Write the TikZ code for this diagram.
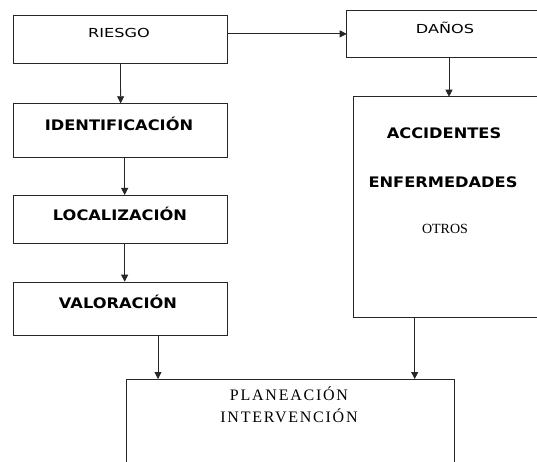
\documentclass[tikz,border=0pt]{standalone}
\usepackage{fontspec}
\setmainfont{Liberation Serif}
\newfontfamily\comic[FakeStretch=1.3]{DejaVu Sans}
\newfontfamily\comicbold[FakeStretch=1.12]{DejaVu Sans}
\newfontfamily\serifsp[LetterSpace=11]{Liberation Serif}
\usetikzlibrary{arrows.meta}
\tikzset{
  box/.style={draw=black!85, line width=1pt, inner sep=0pt, anchor=north west, fill=white},
  openbox/.style={draw=none, inner sep=0pt, anchor=north west},
  edge/.style={draw=black!85, line width=1pt},
  arr/.style={-{Triangle[width=7pt,length=7pt]}, draw=black!85, line width=0.8pt},
  lblreg/.style={anchor=base, inner sep=0pt, font=\comic\fontsize{12.4}{14}\selectfont},
  lblbold/.style={anchor=base, inner sep=0pt, font=\comicbold\bfseries\fontsize{14.5}{16}\selectfont},
  lblserif/.style={anchor=base, inner sep=0pt, font=\serifsp\fontsize{16}{18}\selectfont},
  lblotros/.style={anchor=base, inner sep=0pt, font=\rmfamily\fontsize{14}{16}\selectfont}
}
\begin{document}
\begin{tikzpicture}[x=1pt, y=-1pt]
\useasboundingbox (0,0) rectangle (537,462);
\clip (0,0) rectangle (537,462);
\fill[white] (0,0) rectangle (537,462);
% boxes
\node[box, minimum width=213.4pt, minimum height=48.3pt] (riesgo) at (13.3,14.7) {};
\node[openbox, minimum width=200pt, minimum height=46pt] (danos) at (346.7,10.7) {};
\node[box, minimum width=213.7pt, minimum height=53.7pt] (ident) at (13.3,103.3) {};
\node[box, minimum width=213.7pt, minimum height=47.7pt] (loc) at (13.3,195) {};
\node[box, minimum width=213.7pt, minimum height=53.3pt] (val) at (13.3,281.7) {};
\node[openbox, minimum width=200pt, minimum height=220pt] (acc) at (353.3,96.7) {};
\node[box, minimum width=328pt, minimum height=120pt] (plan) at (126,379) {};
% right boxes run past the right edge of the picture
\coordinate (edgeR) at (545,0);
\draw[edge] (danos.north -| edgeR) -- (danos.north west) -- (danos.south west) -- (danos.south -| edgeR);
\draw[edge] (acc.north -| edgeR) -- (acc.north west) -- (acc.south west) -- (acc.south -| edgeR);
% texts
\node[lblreg] (triesgo) at (119,37.3) {RIESGO};
\node[lblreg] (tdanos) at (445,33.5) {DAÑOS};
\node[lblbold] (tident) at (119,130.7) {IDENTIFICACIÓN};
\node[lblbold] (tloc) at (120,220) {LOCALIZACIÓN};
\node[lblbold] (tval) at (118,308) {VALORACIÓN};
\node[lblbold] (tacc) at (444,138.3) {ACCIDENTES};
\node[lblbold] (tenf) at (443,187.3) {ENFERMEDADES};
\node[lblotros] (totros) at (445,233.3) {OTROS};
\node[lblserif] (tplan) at (289,400) {PLANEACIÓN};
\node[lblserif] (tinter) at (289,422.7) {INTERVENCIÓN};
% connector columns
\coordinate (cd) at (449,0);
\coordinate (cv) at (158,0);
\coordinate (ca) at (414.7,0);
% connectors
\draw[arr] (danos.west -| riesgo.east) -- (danos.west);
\draw[arr] (riesgo.south) -- (ident.north);
\draw[arr] ([xshift=4pt]ident.south) -- ([xshift=4pt]loc.north);
\draw[arr] ([xshift=4pt]loc.south) -- ([xshift=4pt]val.north);
\draw[arr] (danos.south -| cd) -- (acc.north -| cd);
\draw[arr] (val.south -| cv) -- (plan.north -| cv);
\draw[arr] (acc.south -| ca) -- (plan.north -| ca);
\end{tikzpicture}
\end{document}
